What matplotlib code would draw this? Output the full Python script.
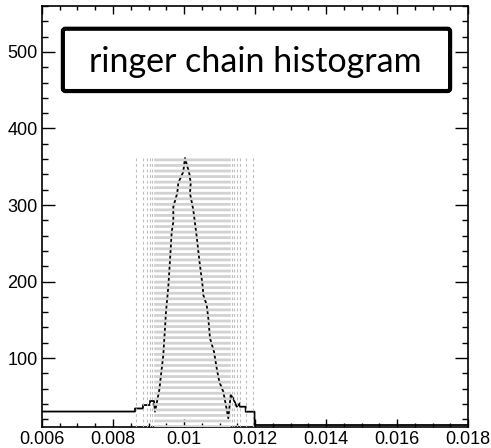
import matplotlib
matplotlib.use("Agg")
import matplotlib.pyplot as plt
from matplotlib.patches import FancyBboxPatch
from matplotlib.ticker import FixedLocator, MultipleLocator

plt.rcParams['lines.scale_dashes'] = False

# --- data ---
curve_x = [0.006, 0.00862, 0.00862, 0.008845, 0.008845, 0.009042, 0.009042, 0.009155,
           0.009183, 0.009304, 0.009417, 0.009493, 0.009558, 0.009606, 0.009654, 0.009699,
           0.009699, 0.009811, 0.009839, 0.009980, 0.010028, 0.010149, 0.010189, 0.010169,
           0.010262, 0.010310, 0.010358, 0.010431, 0.010527, 0.010544, 0.010639, 0.010685,
           0.010732, 0.010845, 0.010921, 0.010994, 0.011107, 0.011183, 0.011248, 0.011315,
           0.011380, 0.011485, 0.011577, 0.011577, 0.011738, 0.011738, 0.011986, 0.011986,
           0.018]
curve_y = [30.2, 30.2, 34.2, 34.2, 38.7, 38.7, 44.0, 44.0,
           30.0, 58.3, 104.1, 160.6, 193.3, 228.2, 265.1, 278.2,
           297.8, 315.7, 328.7, 343.5, 361.4, 341.4, 328.4, 315.3,
           293.5, 276.1, 258.6, 228.2, 193.3, 182.4, 169.4, 152.0,
           125.9, 108.4, 86.7, 69.2, 56.1, 38.0, 21.4, 51.8,
           47.9, 36.5, 41.0, 36.5, 36.5, 30.0, 30.0, 12.6,
           12.6]

sample_lines_x = [0.008639, 0.008859, 0.008966, 0.009042, 0.009099,
                  0.011341, 0.011406, 0.011482, 0.011577, 0.011746, 0.011952]
band_lo, band_hi = 0.00914, 0.01130
lines_top = 361.4

x_ticks = [0.006, 0.008, 0.010, 0.012, 0.014, 0.016, 0.018]
x_labels = ["0.006", "0.008", "0.01", "0.012", "0.014", "0.016", "0.018"]
y_ticks = [100, 200, 300, 400, 500]
y_labels = ["100", "200", "300", "400", "500"]
xlim = (0.006, 0.018)
ylim = (10, 560)
title = "ringer chain histogram"

# --- figure ---
fig = plt.figure(figsize=(4.91, 4.48), dpi=100)
ax = fig.add_axes([42/491, 1-427/448, 426/491, 421/448])
ax.set_xlim(*xlim)
ax.set_ylim(*ylim)

gray = '#bdbdbd'
dash = (0, (2.0, 2.0))
ax.vlines(sample_lines_x, lines_top, ylim[0], colors=gray, linewidth=0.8,
          linestyles=[dash], zorder=3)

fig.canvas.draw()
p0 = ax.transData.transform((band_lo, 0))[0]
p1 = ax.transData.transform((band_hi, 0))[0]
band_lw = (p1 - p0) * 72 / fig.dpi
ax.vlines([(band_lo + band_hi) / 2], lines_top, ylim[0], colors='#d2d2d2',
          linewidth=band_lw, linestyles=[dash], zorder=3, capstyle='butt')

ax.plot(curve_x, curve_y, color='black', linewidth=1.3, zorder=2)

ax.xaxis.set_major_locator(FixedLocator(x_ticks))
ax.set_xticklabels(x_labels)
ax.xaxis.set_minor_locator(MultipleLocator(0.0005))
ax.yaxis.set_major_locator(FixedLocator(y_ticks))
ax.set_yticklabels(y_labels)
ax.yaxis.set_minor_locator(MultipleLocator(20))

ax.tick_params(which='both', direction='in', top=True, right=True,
               labelsize=13, colors='black', width=1.0)
ax.tick_params(axis='x', which='major', length=5.8, pad=3)
ax.tick_params(axis='x', which='minor', length=2.9)
ax.tick_params(axis='y', which='major', length=9.4, pad=3)
ax.tick_params(axis='y', which='minor', length=4.3)
for lab in ax.get_xticklabels() + ax.get_yticklabels():
    lab.set_fontfamily('Liberation Sans')
for s in ax.spines.values():
    s.set_linewidth(1.2)

box = FancyBboxPatch((0.049, 0.798), 0.909, 0.148, transform=ax.transAxes,
                     boxstyle='round,pad=0,rounding_size=0.006',
                     facecolor='white', edgecolor='black', linewidth=3.0, zorder=5)
ax.add_patch(box)
ax.text(0.5017, 0.868, title, transform=ax.transAxes, ha='center', va='center',
        fontsize=24.5, family='Lato', zorder=6)

fig.savefig('out.png', dpi=100)
